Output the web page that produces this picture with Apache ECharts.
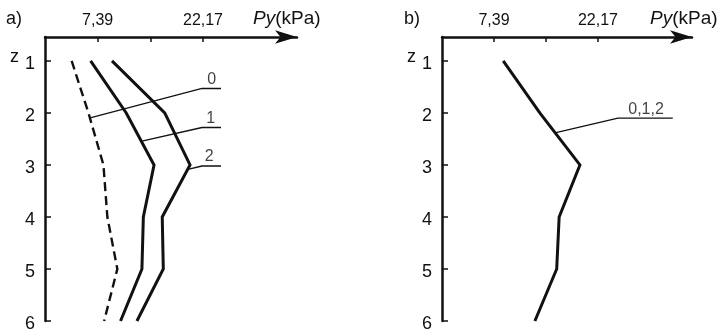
<!DOCTYPE html>
<html>
<head>
<meta charset="utf-8">
<script src="https://cdn.jsdelivr.net/npm/echarts@6/dist/echarts.min.js"></script>
<style>
html,body{margin:0;padding:0;background:#fff;}
#c{width:720px;height:333px;}
</style>
</head>
<body>
<div id="c"></div>
<script>
// depth levels z
const zLevels = [1, 2, 3, 4, 5, 6];
// Panel a) Py (kPa) for cases 0, 1, 2
const pyA0 = [3.74, 6.1, 8.2, 8.75, 10.15, 8.3];
const pyA1 = [6.4, 11.4, 15.3, 13.8, 13.6, 10.6];
const pyA2 = [9.4, 16.8, 20.35, 16.45, 16.6, 12.9];
// Panel b) Py (kPa) for cases 0,1,2 (coincident)
const pyB = [8.7, 13.9, 19.6, 16.65, 16.3, 13.2];
// axis ticks / labels
const xTicks = [7.39, 14.78, 22.17];
const xTickLabels = [7.39, 22.17];
const zTickLabels = [1, 2, 3, 4, 5, 6];
// leader annotations (data coordinates: [Py, z])
const leaderA0 = [[6.2, 2.1], [22.03, 1.53], [24.7, 1.53]];
const leaderA1 = [[13.6, 2.54], [22.03, 2.28], [24.7, 2.28]];
const leaderA2 = [[20.2, 3.08], [22.03, 3.02], [24.7, 3.02]];
const leaderB = [[16.2, 2.38], [25.0, 2.10], [32.8, 2.10]];
const labelsA = [{name: '0', pos: [23.4, 1.53]}, {name: '1', pos: [23.25, 2.28]}, {name: '2', pos: [23.05, 3.02]}];
const labelsB = [{name: '0,1,2', pos: [29.0, 2.10]}];

const FONT = 'Liberation Sans';
const INK = '#111';

function pairs(xs) { return xs.map((v, i) => [v, zLevels[i]]); }

function xAxisCfg(grid, max) {
  return {
    type: 'value', gridIndex: grid, position: 'top', min: 0, max: max,
    axisLine: {show: true, symbol: ['none', 'arrow'], symbolSize: [10, 22], lineStyle: {color: INK, width: 2.5}},
    axisTick: {show: true, inside: true, length: 5, customValues: xTicks, lineStyle: {color: INK, width: 1.5}},
    axisLabel: {show: true, customValues: xTickLabels, margin: 8, color: INK, fontFamily: FONT, fontSize: 16,
      formatter: v => String(v).replace('.', ',')},
    splitLine: {show: false}
  };
}
function yAxisCfg(grid) {
  return {
    type: 'value', gridIndex: grid, inverse: true, min: 0.54, max: 6,
    axisLine: {show: true, onZero: false, lineStyle: {color: INK, width: 2.5}},
    axisTick: {show: true, inside: true, length: 6, customValues: zTickLabels, lineStyle: {color: INK, width: 1.5}},
    axisLabel: {show: true, customValues: zTickLabels, margin: 10, color: INK, fontFamily: FONT, fontSize: 18,
      formatter: v => v === 1 ? '{z|z}{n|1}' : '{n|' + v + '}',
      rich: {z: {fontFamily: FONT, fontSize: 18, color: INK, padding: [0, 6, 8, 0]},
             n: {fontFamily: FONT, fontSize: 18, color: INK, padding: [6, 0, 0, 0]}}},
    splitLine: {show: false}
  };
}
function profile(x, y, data, dashed) {
  return {type: 'line', xAxisIndex: x, yAxisIndex: y, data: pairs(data), symbol: 'none', silent: true,
    lineStyle: {color: INK, width: dashed ? 2.4 : 3, type: dashed ? [9, 5] : 'solid', cap: 'butt', join: 'miter'}};
}
function leader(x, y, pts) {
  return {type: 'line', xAxisIndex: x, yAxisIndex: y, data: pts, symbol: 'none', silent: true,
    lineStyle: {color: INK, width: 1.3}};
}
function tags(x, y, items) {
  return {type: 'scatter', xAxisIndex: x, yAxisIndex: y, symbolSize: 0, silent: true,
    data: items.map(it => ({value: it.pos, name: it.name})),
    label: {show: true, position: 'top', distance: 1, formatter: p => p.name, color: INK, fontFamily: FONT, fontSize: 16}};
}

const chart = echarts.init(document.getElementById('c'), null, {renderer: 'canvas'});
const titleStyle = {fontFamily: FONT, fontSize: 18, fontWeight: 'normal', color: INK};
const pyStyle = {fontFamily: FONT, fontSize: 19, fontWeight: 'normal', color: INK,
  rich: {i: {fontFamily: FONT, fontSize: 19, fontStyle: 'italic', color: INK}}};
chart.setOption({
  animation: false,
  backgroundColor: '#fff',
  title: [
    {text: 'a)', left: 6, top: 10, padding: 0, textStyle: titleStyle},
    {text: 'b)', left: 404, top: 10, padding: 0, textStyle: titleStyle},
    {text: '{i|Py}(kPa)', left: 253, top: 9, padding: 0, textStyle: pyStyle},
    {text: '{i|Py}(kPa)', left: 650, top: 9, padding: 0, textStyle: pyStyle}
  ],
  grid: [
    {left: 45, top: 37, width: 252, height: 284, containLabel: false, outerBoundsMode: 'none'},
    {left: 442, top: 37, width: 250, height: 284, containLabel: false, outerBoundsMode: 'none'}
  ],
  xAxis: [xAxisCfg(0, 35.36), xAxisCfg(1, 35.53)],
  yAxis: [yAxisCfg(0), yAxisCfg(1)],
  series: [
    profile(0, 0, pyA0, true),
    profile(0, 0, pyA1, false),
    profile(0, 0, pyA2, false),
    profile(1, 1, pyB, false),
    leader(0, 0, leaderA0),
    leader(0, 0, leaderA1),
    leader(0, 0, leaderA2),
    leader(1, 1, leaderB),
    tags(0, 0, labelsA),
    tags(1, 1, labelsB)
  ]
});
</script>
</body>
</html>
